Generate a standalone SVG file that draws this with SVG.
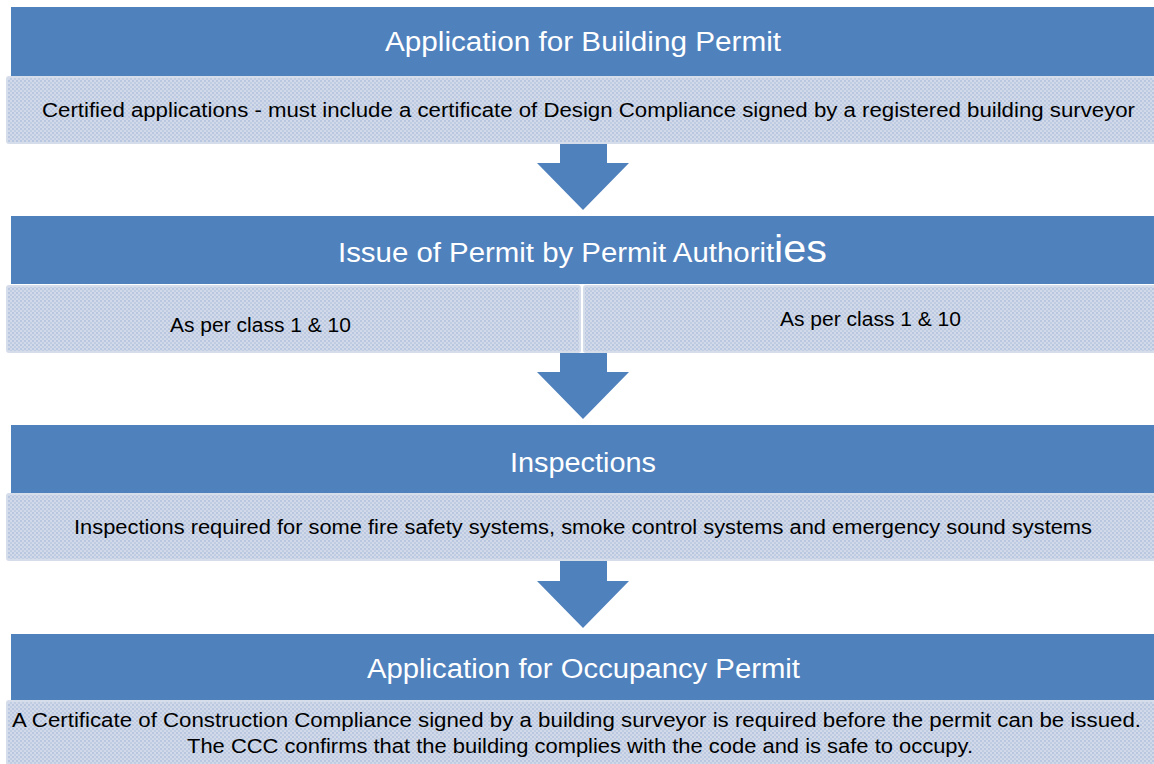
<svg xmlns="http://www.w3.org/2000/svg" width="1154" height="764" viewBox="0 0 1154 764">
<defs>
<pattern id="dots" patternUnits="userSpaceOnUse" width="4" height="4">
<rect width="4" height="4" fill="#D2DAEA"/>
<rect x="0" y="0" width="2" height="2" fill="#B9C8E0"/>
<rect x="2" y="2" width="2" height="2" fill="#BFCCE2"/>
</pattern>
<style>
.hdr{fill:#4F81BD}
.det{fill:url(#dots);stroke:#D6DDEA;stroke-width:2}
.ttl{font-family:"Liberation Sans",Arial,sans-serif;fill:#FFFFFF;font-size:27px}
.txt{font-family:"Liberation Sans",Arial,sans-serif;fill:#000000;font-size:20px}
.arr{fill:#4F81BD}
</style>
</defs>
<rect width="1154" height="764" fill="#FFFFFF"/>

<g id="step1">
<rect class="hdr" x="11" y="7" width="1143" height="69"/>
<text class="ttl" x="385" y="51" textLength="396" lengthAdjust="spacingAndGlyphs">Application for Building Permit</text>
<rect class="det" x="7" y="77" width="1148" height="66" rx="2"/>
<text class="txt" x="42" y="117" textLength="1093" lengthAdjust="spacingAndGlyphs">Certified applications - must include a certificate of Design Compliance signed by a registered building surveyor</text>
</g>

<g id="step2">
<rect class="hdr" x="11" y="216" width="1143" height="68"/>
<text class="ttl" x="338" y="262" textLength="489" lengthAdjust="spacingAndGlyphs">Issue of Permit by Permit Authorit<tspan font-size="38">ies</tspan></text>
<rect class="det" x="7" y="286" width="573" height="66" rx="2"/>
<rect class="det" x="584" y="286" width="571" height="66" rx="2"/>
<text class="txt" x="170" y="332" textLength="181" lengthAdjust="spacingAndGlyphs">As per class 1 &amp; 10</text>
<text class="txt" x="780" y="326" textLength="181" lengthAdjust="spacingAndGlyphs">As per class 1 &amp; 10</text>
</g>

<g id="step3">
<rect class="hdr" x="11" y="425" width="1143" height="68"/>
<text class="ttl" x="510" y="472" textLength="146" lengthAdjust="spacingAndGlyphs">Inspections</text>
<rect class="det" x="7" y="494" width="1148" height="66" rx="2"/>
<text class="txt" x="74" y="534" textLength="1018" lengthAdjust="spacingAndGlyphs">Inspections required for some fire safety systems, smoke control systems and emergency sound systems</text>
</g>

<g id="step4">
<rect class="hdr" x="11" y="634" width="1143" height="66"/>
<text class="ttl" x="367" y="678" textLength="433" lengthAdjust="spacingAndGlyphs">Application for Occupancy Permit</text>
<rect class="det" x="7" y="701" width="1148" height="66" rx="2"/>
<text class="txt" x="12" y="727" textLength="1129" lengthAdjust="spacingAndGlyphs">A Certificate of Construction Compliance signed by a building surveyor is required before the permit can be issued.</text>
<text class="txt" x="187" y="753" textLength="786" lengthAdjust="spacingAndGlyphs">The CCC confirms that the building complies with the code and is safe to occupy.</text>
</g>

<g id="connectors">
<polygon class="arr" points="560,144 607,144 607,163 629,163 583,210 537,163 560,163"/>
<polygon class="arr" points="560,353 607,353 607,372 629,372 583,419 537,372 560,372"/>
<polygon class="arr" points="560,561 607,561 607,581 629,581 583,628 537,581 560,581"/>
</g>
</svg>
